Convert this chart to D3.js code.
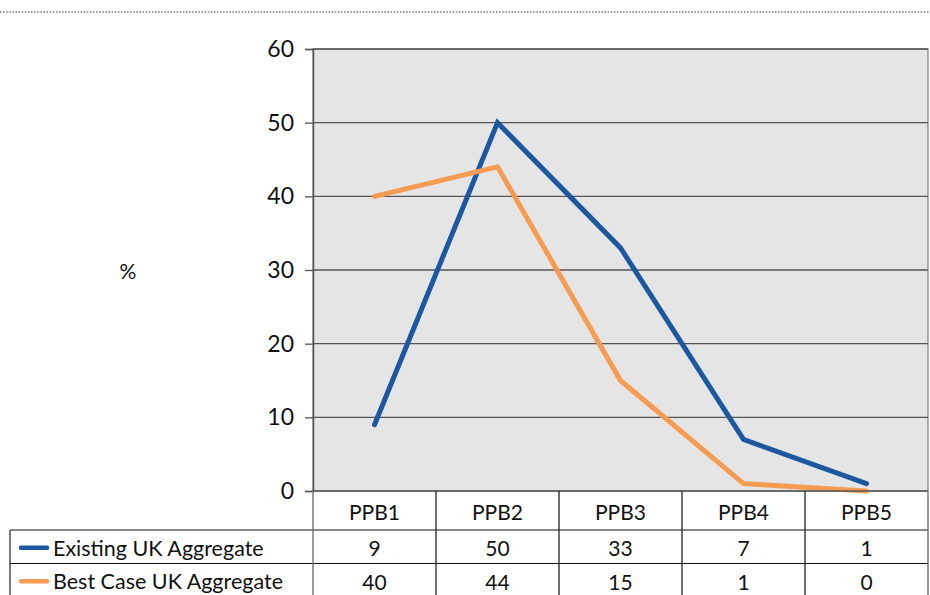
<!DOCTYPE html>
<html>
<head>
<meta charset="utf-8">
<script src="https://cdn.jsdelivr.net/npm/d3@7"></script>
<style>
  html, body { margin: 0; padding: 0; background: #fff; }
  svg { display: block; }
  text { font-family: Lato, "Open Sans", sans-serif; fill: #111; }
</style>
</head>
<body>
<svg id="chart" width="930" height="595"></svg>
<script>
// Price-per-band categories and the two aggregate series (%)
const categories = ["PPB1", "PPB2", "PPB3", "PPB4", "PPB5"];
const existingUK = [9, 50, 33, 7, 1];
const bestCaseUK = [40, 44, 15, 1, 0];
const seriesNames = ["Existing UK Aggregate", "Best Case UK Aggregate"];
const seriesColors = ["#1c589f", "#f59b52"];
const yTicks = [0, 10, 20, 30, 40, 50, 60];

const series = [existingUK, bestCaseUK].map((values, i) => ({
  name: seriesNames[i], color: seriesColors[i], values
}));

const svg = d3.select("#chart");
const plot = { left: 313, right: 928, top: 49, bottom: 491 };
const rowH = 33.5;
const rows = [plot.bottom, plot.bottom + 39, plot.bottom + 39 + rowH, plot.bottom + 39 + 2 * rowH];
const tableLeft = 10;

// dotted rule across the top
svg.append("line")
  .attr("x1", 0).attr("x2", 930).attr("y1", 12).attr("y2", 12)
  .attr("stroke", "#777").attr("stroke-width", 1.6)
  .attr("stroke-dasharray", "1.5,1.6");

const x = d3.scaleBand().domain(categories).range([plot.left, plot.right]);
const y = d3.scaleLinear().domain([0, 60]).range([plot.bottom, plot.top]);

// plot area
svg.append("rect")
  .attr("x", plot.left).attr("y", plot.top)
  .attr("width", plot.right - plot.left).attr("height", plot.bottom - plot.top)
  .attr("fill", "#e5e5e5").attr("stroke", "#888").attr("stroke-width", 1.3);

// horizontal gridlines
svg.append("g").selectAll("line").data(yTicks.filter(t => t > 0)).join("line")
  .attr("x1", plot.left).attr("x2", plot.right)
  .attr("y1", d => y(d)).attr("y2", d => y(d))
  .attr("stroke", "#555").attr("stroke-width", 1.3);

// y axis
const yAxis = d3.axisLeft(y).tickValues(yTicks).tickSize(8).tickPadding(11);
const yg = svg.append("g").attr("transform", `translate(${plot.left},0)`).call(yAxis);
yg.select(".domain").attr("stroke", "#555").attr("stroke-width", 1.5);
yg.selectAll(".tick line").attr("stroke", "#555").attr("stroke-width", 1.3);
yg.selectAll(".tick text")
  .attr("font-size", 23).attr("font-family", "Lato, 'Open Sans', sans-serif").attr("fill", "#111");

// y axis title
svg.append("text").attr("x", 128).attr("y", 270)
  .attr("text-anchor", "middle").attr("dominant-baseline", "central")
  .attr("font-size", 21).text("%");

// series lines
const line = d3.line()
  .x((d, i) => x(categories[i]) + x.bandwidth() / 2)
  .y(d => y(d));

svg.append("g").selectAll("path").data(series).join("path")
  .attr("d", d => line(d.values))
  .attr("fill", "none")
  .attr("stroke", d => d.color)
  .attr("stroke-width", 5)
  .attr("stroke-linecap", "round")
  .attr("stroke-linejoin", "miter");

// data table below the plot
const tg = svg.append("g");
const colEdges = categories.map(c => x(c)).concat([plot.right]);

// horizontal rules
tg.selectAll("line.h").data(rows).join("line").attr("class", "h")
  .attr("x1", (d, i) => i === 0 ? plot.left : tableLeft).attr("x2", plot.right)
  .attr("y1", d => d).attr("y2", d => d)
  .attr("stroke", (d, i) => i === 0 ? "#555" : "#111")
  .attr("stroke-width", (d, i) => i === 0 ? 1.5 : 1.2);

// vertical rules
tg.selectAll("line.v").data(colEdges).join("line").attr("class", "v")
  .attr("x1", d => d).attr("x2", d => d)
  .attr("y1", rows[0]).attr("y2", 595)
  .attr("stroke", (d, i) => (i === 0 || i === colEdges.length - 1) ? "#666" : "#222")
  .attr("stroke-width", 1.3);
tg.append("line")
  .attr("x1", tableLeft).attr("x2", tableLeft).attr("y1", rows[1]).attr("y2", 595)
  .attr("stroke", "#222").attr("stroke-width", 1.2);

// category header
tg.selectAll("text.cat").data(categories).join("text").attr("class", "cat")
  .attr("x", d => x(d) + x.bandwidth() / 2)
  .attr("y", (rows[0] + rows[1]) / 2 + 1)
  .attr("text-anchor", "middle").attr("dominant-baseline", "central")
  .attr("font-size", 21).text(d => d);

// series rows: legend key + values
series.forEach((s, r) => {
  const cy = (rows[r + 1] + rows[r + 2]) / 2 + 1;
  tg.append("line")
    .attr("x1", 21).attr("x2", 47).attr("y1", cy).attr("y2", cy)
    .attr("stroke", s.color).attr("stroke-width", 4.5).attr("stroke-linecap", "round");
  tg.append("text").attr("x", 53).attr("y", cy)
    .attr("dominant-baseline", "central").attr("font-size", 21.5).text(s.name);
  tg.selectAll(null).data(s.values).join("text")
    .attr("x", (d, i) => x(categories[i]) + x.bandwidth() / 2)
    .attr("y", cy)
    .attr("text-anchor", "middle").attr("dominant-baseline", "central")
    .attr("font-size", 21).text(d => d);
});
</script>
</body>
</html>
